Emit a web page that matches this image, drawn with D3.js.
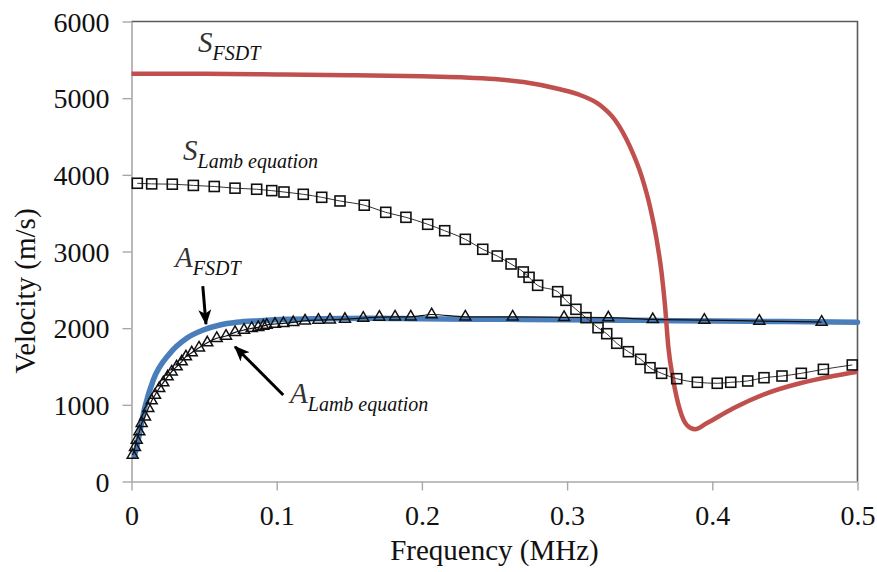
<!DOCTYPE html>
<html>
<head>
<meta charset="utf-8">
<script src="https://cdn.jsdelivr.net/npm/d3@7/dist/d3.min.js"></script>
</head>
<body style="margin:0">
<svg id="dispersion" width="877" height="572"></svg>
<script>
const SERIF = "'Liberation Serif'";

// Symmetric mode, first-order shear deformation theory: [frequency MHz, velocity m/s]
const sFsdt = [
  [0, 5320], [0.05, 5318], [0.1, 5310], [0.15, 5300], [0.2, 5285], [0.227, 5272],
  [0.25, 5250], [0.27, 5210], [0.2951, 5116], [0.3089, 5041], [0.3226, 4911],
  [0.333, 4715], [0.3433, 4367], [0.3514, 3976], [0.3571, 3584], [0.3617, 3150],
  [0.3651, 2719], [0.3674, 2300], [0.3697, 1758], [0.3731, 1324], [0.3777, 933],
  [0.3824, 737], [0.3881, 681], [0.3961, 759], [0.4145, 955], [0.4375, 1150],
  [0.4604, 1281], [0.4833, 1376], [0.5, 1432]
];

// Antisymmetric mode, first-order shear deformation theory
const aFsdt = [
  [0.002, 330], [0.0036, 454], [0.0093, 976], [0.015, 1324], [0.0265, 1672],
  [0.038, 1868], [0.0494, 1976], [0.0609, 2041], [0.0725, 2076], [0.0885, 2097],
  [0.1069, 2115], [0.1298, 2124], [0.1643, 2129], [0.2, 2122], [0.25, 2116],
  [0.3, 2110], [0.35, 2102], [0.4, 2094], [0.45, 2086], [0.5, 2078]
];

// Symmetric mode from the Lamb equation
const sLamb = [
  [0.004, 3890], [0.0139, 3882], [0.0281, 3878], [0.0426, 3862], [0.057, 3848],
  [0.0713, 3826], [0.0862, 3812], [0.0966, 3794], [0.105, 3776], [0.1183, 3746],
  [0.131, 3707], [0.1436, 3659], [0.1603, 3604], [0.1751, 3511], [0.189, 3446],
  [0.204, 3355], [0.2157, 3271], [0.2299, 3159], [0.2419, 3029], [0.2519, 2941],
  [0.2614, 2837], [0.2698, 2733], [0.2738, 2663], [0.2797, 2559], [0.2935, 2476],
  [0.2992, 2363], [0.3061, 2246], [0.313, 2137], [0.3213, 2006], [0.3273, 1928],
  [0.3342, 1803], [0.3422, 1693], [0.3507, 1594], [0.3571, 1484], [0.3651, 1411],
  [0.3755, 1341], [0.3897, 1294], [0.4034, 1281], [0.4127, 1294], [0.4244, 1311],
  [0.4356, 1354], [0.448, 1376], [0.4613, 1411], [0.4765, 1463], [0.4964, 1520]
];

// Antisymmetric mode from the Lamb equation
const aLamb = [
  [0.0008, 346], [0.0024, 446], [0.0036, 541], [0.0054, 650], [0.007, 759],
  [0.0093, 845], [0.0116, 955], [0.0139, 1054], [0.0162, 1128], [0.0191, 1216],
  [0.0219, 1289], [0.0249, 1367], [0.0277, 1432], [0.0311, 1498], [0.0346, 1563],
  [0.0375, 1628], [0.0415, 1680], [0.0465, 1745], [0.0522, 1811], [0.0587, 1868],
  [0.0651, 1898], [0.0713, 1946], [0.0775, 1976], [0.0828, 1998], [0.0873, 2011],
  [0.0908, 2028], [0.0931, 2041], [0.0988, 2054], [0.1046, 2063], [0.1114, 2076],
  [0.1195, 2097], [0.1287, 2106], [0.1367, 2110], [0.147, 2118], [0.1596, 2132],
  [0.1707, 2145], [0.1815, 2148], [0.1923, 2148], [0.2067, 2178], [0.2299, 2148],
  [0.2625, 2148], [0.2979, 2142], [0.3284, 2137], [0.359, 2115], [0.3945, 2106],
  [0.4324, 2093], [0.4753, 2080]
];

const xTicks = [0, 0.1, 0.2, 0.3, 0.4, 0.5];
const yTicks = [0, 1000, 2000, 3000, 4000, 5000, 6000];

// Curve labels: [frequency, velocity] of the main letter's baseline start
const labels = [
  { main: "S", sub: "FSDT", at: [0.0458, 5602] },
  { main: "S", sub: "Lamb equation", at: [0.0355, 4193] },
  { main: "A", sub: "FSDT", at: [0.03, 2798] },
  { main: "A", sub: "Lamb equation", at: [0.1092, 1024] }
];

// Pointer arrows: tail -> tip, in data units
const arrows = [
  { from: [0.0491, 2549], to: [0.0513, 2054] },
  { from: [0.1045, 1128], to: [0.0713, 1758] }
];

const W = 877, H = 572;
const margin = { left: 131.5, right: W - 857.5, top: 21.5, bottom: H - 481.5 };
const svg = d3.select("#dispersion");

const x = d3.scaleLinear().domain([0, 0.5]).range([margin.left, W - margin.right]);
const y = d3.scaleLinear().domain([0, 6000]).range([H - margin.bottom, margin.top]);

// Plot frame: darker top/right edges
svg.append("path")
  .attr("d", `M${x(0)},${y(6000)}H${x(0.5)}V${y(0)}`)
  .attr("fill", "none").attr("stroke", "#5a5a5a").attr("stroke-width", 1.6);

// Axes
const xAxis = svg.append("g")
  .attr("transform", `translate(0,${y(0)})`)
  .call(d3.axisBottom(x).tickValues(xTicks).tickFormat(d => d === 0 ? "0" : d3.format(".1f")(d))
    .tickSizeInner(9).tickSizeOuter(0).tickPadding(14));
const yAxis = svg.append("g")
  .attr("transform", `translate(${x(0)},0)`)
  .call(d3.axisLeft(y).tickValues(yTicks).tickFormat(d3.format("d"))
    .tickSizeInner(9).tickSizeOuter(0).tickPadding(13));

[xAxis, yAxis].forEach(g => {
  g.attr("font-family", null).attr("font-size", null);
  g.select(".domain").attr("stroke", "#a8a8a8").attr("stroke-width", 1.6);
  g.selectAll(".tick line").attr("stroke", "#a8a8a8").attr("stroke-width", 1.4);
  g.selectAll(".tick text")
    .style("font-family", SERIF).attr("font-size", 28).attr("fill", "#111");
});
yAxis.selectAll(".tick text").attr("dy", "0.34em");
xAxis.selectAll(".tick text").attr("dy", "0.72em");

// Axis titles
svg.append("text")
  .attr("x", (x(0) + x(0.5)) / 2).attr("y", 560)
  .attr("text-anchor", "middle")
  .style("font-family", SERIF).attr("font-size", 29).attr("fill", "#111")
  .text("Frequency (MHz)");
svg.append("text")
  .attr("transform", `translate(35,291) rotate(-90)`)
  .attr("text-anchor", "middle")
  .style("font-family", SERIF).attr("font-size", 29).attr("fill", "#111")
  .text("Velocity (m/s)");

const smooth = d3.line().x(d => x(d[0])).y(d => y(d[1])).curve(d3.curveMonotoneX);

// FSDT curves
svg.append("path").datum(aFsdt).attr("d", smooth)
  .attr("fill", "none").attr("stroke", "#4a7ebb").attr("stroke-width", 5.5)
  .attr("stroke-linecap", "round");
svg.append("path").datum(sFsdt).attr("d", smooth)
  .attr("fill", "none").attr("stroke", "#c0504d").attr("stroke-width", 4.5)
  .attr("stroke-linejoin", "round");

// Lamb equation series: thin connecting line plus markers
svg.append("path").datum(sLamb).attr("d", smooth)
  .attr("fill", "none").attr("stroke", "#333").attr("stroke-width", 1);
svg.append("path").datum(aLamb).attr("d", smooth)
  .attr("fill", "none").attr("stroke", "#111").attr("stroke-width", 1.2);

svg.append("g").selectAll("rect").data(sLamb).join("rect")
  .attr("x", d => x(d[0]) - 5).attr("y", d => y(d[1]) - 5)
  .attr("width", 10).attr("height", 10)
  .attr("fill", "none").attr("stroke", "#111").attr("stroke-width", 1.6);

const tri = d3.symbol().type(d3.symbolTriangle).size(52);
svg.append("g").selectAll("path").data(aLamb).join("path")
  .attr("transform", d => `translate(${x(d[0])},${y(d[1])})`)
  .attr("d", tri)
  .attr("fill", "none").attr("stroke", "#111").attr("stroke-width", 1.5);

// Arrows
svg.append("defs").append("marker")
  .attr("id", "head").attr("viewBox", "0 0 12 10")
  .attr("refX", 11).attr("refY", 5)
  .attr("markerWidth", 5.2).attr("markerHeight", 5)
  .attr("orient", "auto").attr("markerUnits", "strokeWidth")
  .append("path").attr("d", "M0,0L12,5L0,10L3,5Z").attr("fill", "#000");

svg.append("g").selectAll("line").data(arrows).join("line")
  .attr("x1", d => x(d.from[0])).attr("y1", d => y(d.from[1]))
  .attr("x2", d => x(d.to[0])).attr("y2", d => y(d.to[1]))
  .attr("stroke", "#000").attr("stroke-width", 3)
  .attr("marker-end", "url(#head)");

// Curve labels with subscripts
const lab = svg.append("g").selectAll("text").data(labels).join("text")
  .attr("x", d => x(d.at[0])).attr("y", d => y(d.at[1]))
  .style("font-family", SERIF).style("font-style", "italic");
lab.append("tspan").attr("font-size", 29).attr("fill", "#333").text(d => d.main);
lab.append("tspan").attr("font-size", 20).attr("fill", "#111").attr("dy", 8).text(d => d.sub);
</script>
</body>
</html>
